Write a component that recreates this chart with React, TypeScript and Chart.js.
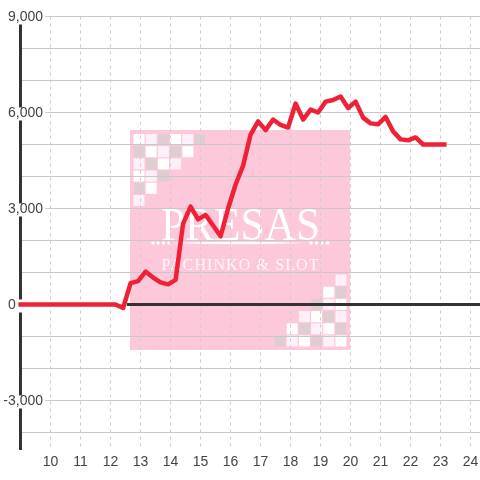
import React, { useEffect, useRef } from "react";
import { Chart, registerables } from "chart.js";

Chart.register(...registerables);

const hours = [
  8.93, 12.17, 12.42, 12.67, 12.92, 13.17, 13.42, 13.67, 13.92, 14.17, 14.42, 14.67, 14.92, 15.17, 15.42,
  15.67, 15.92, 16.17, 16.42, 16.67, 16.92, 17.17, 17.42, 17.67, 17.92, 18.17, 18.42, 18.67, 18.92,
  19.17, 19.42, 19.67, 19.92, 20.17, 20.42, 20.67, 20.92, 21.17, 21.42, 21.67, 21.92, 22.17, 22.42,
  22.67, 22.92, 23.2,
];
const balance = [
  0, 0, -110, 670, 730, 1030, 840, 690, 630, 770, 2530, 3060, 2660, 2800, 2470,
  2130, 3000, 3750, 4340, 5310, 5720, 5450, 5780, 5610, 5530, 6280, 5780, 6090, 6000,
  6340, 6390, 6500, 6140, 6340, 5840, 5660, 5630, 5860, 5410, 5160, 5130, 5220, 5000,
  5000, 5000, 5000,
];
const zeroLineHours = [12.55, 24.32];
const zeroLineValues = [0, 0];
const xTicks = [10, 11, 12, 13, 14, 15, 16, 17, 18, 19, 20, 21, 22, 23, 24];
const yTicks = [9000, 8000, 7000, 6000, 5000, 4000, 3000, 2000, 1000, 0, -1000, -2000, -3000, -4000];
const yLabels: Record<number, string> = {
  9000: "9,000",
  6000: "6,000",
  3000: "3,000",
  0: "0\u00A0\u00A0\u00A0\u00A0\u00A0\u00A0\u00A0",
  [-3000]: "-3,000",
};
const logoTitle = "PRESAS";
const logoSubtitle = "PACHINKO & SLOT";
const W = "#ffffff";
const P = "#fdf0fb";
const G = "#dfcdd2";
const logoCells = [
  [W, P, G, W, P, G],
  [G, W, P, G, W],
  [P, G, W, P],
  [W, P, G],
  [G, W],
  [P],
];

const watermark = {
  id: "watermark",
  beforeDraw(chart: any) {
    const c = chart.ctx;
    c.save();
    c.fillStyle = "#fdc9da";
    c.fillRect(130, 130, 220, 220);
    const pitch = 12.2;
    logoCells.forEach((row, r) =>
      row.forEach((color, k) => {
        c.fillStyle = color;
        c.fillRect(133.5 + k * pitch, 134 + r * pitch, 11, 11);
        c.fillRect(346.5 - k * pitch - 11, 346.5 - r * pitch - 11, 11, 11);
      })
    );
    c.fillStyle = "#ffffff";
    c.textAlign = "center";
    c.textBaseline = "alphabetic";
    c.font = '46px "Liberation Serif"';
    c.fillText(logoTitle, 240.5, 239.5, 159);
    [153, 158, 163.5, 169, 311, 316.5, 322, 327.5].forEach((x) => {
      c.beginPath();
      c.arc(x, 243, 1.8, 0, Math.PI * 2);
      c.fill();
    });
    c.beginPath();
    c.moveTo(172, 243);
    c.quadraticCurveTo(240, 240.5, 306, 243);
    c.quadraticCurveTo(240, 245.5, 172, 243);
    c.fill();
    c.globalAlpha = 0.85;
    c.font = '16px "Liberation Serif"';
    c.letterSpacing = "1.1px";
    c.fillText(logoSubtitle, 240.5, 269.5);
    c.restore();
  },
};

export default function App() {
  const ref = useRef<HTMLCanvasElement>(null);
  useEffect(() => {
    const chart = new Chart(ref.current!, {
      type: "line",
      data: {
        datasets: [
          {
            data: hours.map((x, i) => ({ x, y: balance[i] })),
            borderColor: "#ef2136",
            borderWidth: 4.5,
            pointRadius: 0,
            tension: 0,
            borderJoinStyle: "round",
            clip: false,
            order: 0,
          },
          {
            data: zeroLineHours.map((x, i) => ({ x, y: zeroLineValues[i] })),
            borderColor: "#333333",
            borderWidth: 3,
            pointRadius: 0,
            clip: false,
            order: 1,
          },
        ],
      },
      plugins: [watermark],
      options: {
        animation: false,
        responsive: false,
        devicePixelRatio: 1,
        layout: { autoPadding: false, padding: { top: 16.5, left: 0, right: 0, bottom: 0 } },
        plugins: { legend: { display: false }, tooltip: { enabled: false } },
        scales: {
          x: {
            type: "linear",
            min: 9,
            max: 24.317,
            afterBuildTicks: (s: any) => {
              s.ticks = xTicks.map((value) => ({ value }));
            },
            afterFit: (s: any) => {
              s.height = 31;
              s.paddingRight = 0;
              s.paddingLeft = 0;
            },
            grid: { color: "#cccccc", lineWidth: 1, drawTicks: false },
            border: { display: false, dash: [3, 4] },
            ticks: {
              autoSkip: false,
              maxRotation: 0,
              padding: 5,
              color: "#444444",
              font: { family: "Liberation Sans", size: 14 },
              callback: (v: any) => String(v),
            },
          },
          y: {
            type: "linear",
            min: -4515.6,
            max: 9000,
            afterBuildTicks: (s: any) => {
              s.ticks = yTicks.map((value) => ({ value }));
            },
            afterFit: (s: any) => {
              s.width = 20.5;
              s._computeLabelArea = () => undefined;
            },
            grid: { color: "#c8c8c8", lineWidth: 1, drawTicks: false },
            border: { display: true, color: "#333333", width: 3 },
            ticks: {
              autoSkip: false,
              padding: -22.5,
              labelOffset: 1,
              color: "#444444",
              font: { family: "Liberation Sans", size: 14 },
              showLabelBackdrop: (ctx: any) => yLabels[ctx.tick.value] !== undefined,
              backdropColor: "#ffffff",
              backdropPadding: { top: -2.4, bottom: -1.4, left: 0, right: 2 },
              callback: (v: any) => yLabels[v] ?? "",
            },
          },
        },
      },
    } as any);
    return () => chart.destroy();
  }, []);
  return (
    <canvas
      ref={ref}
      width={480}
      height={480}
      style={{ position: "absolute", left: 0, top: 0, display: "block", width: 480, height: 480 }}
    />
  );
}
